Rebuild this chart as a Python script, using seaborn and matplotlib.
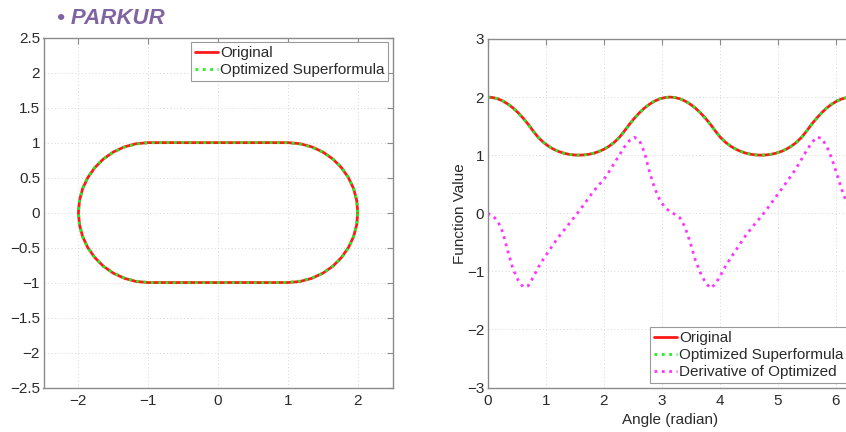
import numpy as np
import pandas as pd
import matplotlib
matplotlib.use("Agg")
import matplotlib.pyplot as plt
import seaborn as sns

# ---------------- data ----------------
angle_deg = [0, 5, 10, 15, 20, 25, 30, 35, 40, 45, 50, 55, 60, 65, 70, 75, 80, 85, 90,
             95, 100, 105, 110, 115, 120, 125, 130, 135, 140, 145, 150, 155, 160, 165, 170, 175, 180,
             185, 190, 195, 200, 205, 210, 215, 220, 225, 230, 235, 240, 245, 250, 255, 260, 265, 270,
             275, 280, 285, 290, 295, 300, 305, 310, 315, 320, 325, 330, 335, 340, 345, 350, 355, 360]

r_original = [2.000, 1.992, 1.970, 1.932, 1.879, 1.813, 1.732, 1.638, 1.532, 1.414, 1.305, 1.221, 1.155, 1.103, 1.064, 1.035, 1.015, 1.004, 1.000,
              1.004, 1.015, 1.035, 1.064, 1.103, 1.155, 1.221, 1.305, 1.414, 1.532, 1.638, 1.732, 1.813, 1.879, 1.932, 1.970, 1.992, 2.000,
              1.992, 1.970, 1.932, 1.879, 1.813, 1.732, 1.638, 1.532, 1.414, 1.305, 1.221, 1.155, 1.103, 1.064, 1.035, 1.015, 1.004, 1.000,
              1.004, 1.015, 1.035, 1.064, 1.103, 1.155, 1.221, 1.305, 1.414, 1.532, 1.638, 1.732, 1.813, 1.879, 1.932, 1.970, 1.992, 2.000]

r_optimized = [2.000, 1.993, 1.971, 1.934, 1.882, 1.814, 1.730, 1.633, 1.525, 1.412, 1.306, 1.223, 1.158, 1.106, 1.066, 1.036, 1.016, 1.004, 1.000,
               1.004, 1.016, 1.036, 1.066, 1.106, 1.158, 1.223, 1.306, 1.412, 1.525, 1.633, 1.730, 1.814, 1.882, 1.934, 1.971, 1.993, 2.000,
               1.993, 1.971, 1.934, 1.882, 1.814, 1.730, 1.633, 1.525, 1.412, 1.306, 1.223, 1.158, 1.106, 1.066, 1.036, 1.016, 1.004, 1.000,
               1.004, 1.016, 1.036, 1.066, 1.106, 1.158, 1.223, 1.306, 1.412, 1.525, 1.633, 1.730, 1.814, 1.882, 1.934, 1.971, 1.993, 2.000]

d_optimized = [0.00, -0.04, -0.14, -0.33, -0.66, -0.96, -1.15, -1.27, -1.25, -1.10, -0.93, -0.79, -0.66, -0.53, -0.41, -0.30, -0.19, -0.08, 0.03,
               0.15, 0.27, 0.39, 0.49, 0.59, 0.72, 0.86, 1.00, 1.14, 1.25, 1.31, 1.25, 1.04, 0.70, 0.43, 0.23, 0.10, 0.03,
               -0.02, -0.08, -0.24, -0.50, -0.80, -1.02, -1.19, -1.29, -1.22, -1.07, -0.91, -0.77, -0.64, -0.51, -0.38, -0.27, -0.16, -0.06,
               0.05, 0.17, 0.29, 0.41, 0.53, 0.65, 0.78, 0.93, 1.08, 1.21, 1.31, 1.29, 1.15, 0.94, 0.67, 0.40, 0.17, 0.02]

left_ticks_x = [-2, -1, 0, 1, 2]
left_ticks_y = [-2.5, -2, -1.5, -1, -0.5, 0, 0.5, 1, 1.5, 2, 2.5]
right_ticks_x = [0, 1, 2, 3, 4, 5, 6]
right_ticks_y = [-3, -2, -1, 0, 1, 2, 3]

# ---------------- styling ----------------
sns.set_theme(style="white")
plt.rcParams['font.family'] = ['Liberation Sans', 'DejaVu Sans']
plt.rcParams['axes.unicode_minus'] = True

FS = 11
SPINE = '#8a8a8a'
TXT = '#2a2a2a'

theta = np.deg2rad(angle_deg)
r_o = np.array(r_original)
r_p = np.array(r_optimized)

df_left = pd.DataFrame({
    'x_o': r_o * np.cos(theta), 'y_o': r_o * np.sin(theta),
    'x_p': r_p * np.cos(theta), 'y_p': r_p * np.sin(theta),
})
df_right = pd.DataFrame({'angle': theta, 'orig': r_o, 'opt': r_p, 'deriv': d_optimized})

fig = plt.figure(figsize=(8.46, 4.32), dpi=100)
W, H = 846, 432
ax1 = fig.add_axes([43.5 / W, 44.5 / H, 349.2 / W, 349.8 / H])
ax2 = fig.add_axes([487.7 / W, 44.5 / H, 364.4 / W, 348.5 / H])

# Left panel
sns.lineplot(data=df_left, x='x_o', y='y_o', sort=False, ax=ax1, color='#ff1a1a', lw=2.0,
             label='Original', estimator=None)
sns.lineplot(data=df_left, x='x_p', y='y_p', sort=False, ax=ax1, color='#22ee22', lw=2.0,
             linestyle=':', label='Optimized Superformula', estimator=None)
ax1.set_xlim(-2.5, 2.5)
ax1.set_ylim(-2.5, 2.5)
ax1.set_xticks(left_ticks_x)
ax1.set_xticklabels([f"{v:g}".replace('-', '\u2212') for v in left_ticks_x])
ax1.set_yticks(left_ticks_y)
ax1.set_yticklabels([f"{v:g}".replace('-', '\u2212') for v in left_ticks_y])

# Right panel
sns.lineplot(data=df_right, x='angle', y='orig', sort=False, ax=ax2, color='#ff1a1a', lw=2.0,
             label='Original', estimator=None)
sns.lineplot(data=df_right, x='angle', y='opt', sort=False, ax=ax2, color='#22ee22', lw=2.0,
             linestyle=':', label='Optimized Superformula', estimator=None)
sns.lineplot(data=df_right, x='angle', y='deriv', sort=False, ax=ax2, color='#ff33ff', lw=2.0,
             linestyle=':', label='Derivative of Optimized', estimator=None)
ax2.set_xlim(0, 2 * np.pi)
ax2.set_ylim(-3, 3)
ax2.set_xticks(right_ticks_x)
ax2.set_xticklabels([str(v) for v in right_ticks_x])
ax2.set_yticks(right_ticks_y)
ax2.set_yticklabels([f"{v:g}".replace('-', '\u2212') for v in right_ticks_y])
ax2.set_xlabel('Angle (radian)', fontsize=FS, color=TXT, labelpad=3)
ax2.set_ylabel('Function Value', fontsize=FS, color=TXT, labelpad=0)
ax1.set_xlabel('')
ax1.set_ylabel('')

for ax in (ax1, ax2):
    ax.grid(True, linestyle=(0, (1, 2.5)), color='#d6d6d6', lw=0.7)
    ax.set_axisbelow(True)
    for s in ax.spines.values():
        s.set_color(SPINE)
        s.set_linewidth(1.0)
        s.set_visible(True)
    ax.tick_params(direction='in', length=4, width=0.8, color=SPINE, labelsize=FS,
                   labelcolor=TXT, top=True, right=True)
    ax.tick_params(axis='y', pad=2.5)
    ax.tick_params(axis='x', pad=5)

leg_kw = dict(fontsize=FS, frameon=True, fancybox=False, edgecolor='#9a9a9a',
              handlelength=1.5, handletextpad=0.15, labelspacing=0.2, borderpad=0.25,
              borderaxespad=0.3, framealpha=1.0)
l1 = ax1.legend(loc='upper right', **leg_kw)
l2 = ax2.legend(loc='lower right', **leg_kw)
for lg in (l1, l2):
    lg.get_frame().set_linewidth(0.8)
    for t in lg.get_texts():
        t.set_color(TXT)

fig.text(57 / W, 1 - 23.5 / H, '\u2022 PARKUR', fontsize=16, fontweight='bold', style='italic',
         color='#8064a2', va='baseline', ha='left')

fig.savefig('out.png', dpi=100)
